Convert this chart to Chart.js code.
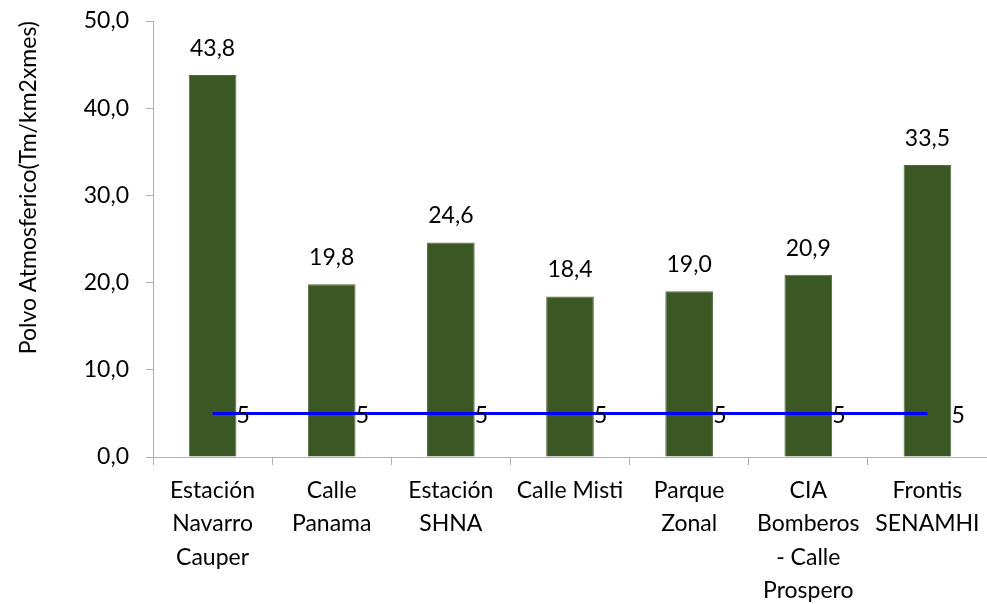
<!DOCTYPE html>
<html>
<head>
<meta charset="utf-8">
<script src="https://cdn.jsdelivr.net/npm/chart.js@4.4.0/dist/chart.umd.min.js"></script>
<style>
  html, body { margin: 0; padding: 0; background: #fff; }
  #wrap { width: 987px; height: 604px; }
</style>
</head>
<body>
<div id="wrap"><canvas id="chart" width="987" height="604"></canvas></div>
<script>
// === Data ===
const stations = [
    ['Estación', 'Navarro', 'Cauper'],
    ['Calle', 'Panama'],
    ['Estación', 'SHNA'],
    'Calle Misti',
    ['Parque', 'Zonal'],
    ['CIA', 'Bomberos', '- Calle', 'Prospero'],
    ['Frontis', 'SENAMHI']
];
const dustValues = [43.8, 19.8, 24.6, 18.4, 19.0, 20.9, 33.5];
const limitValues = [5, 5, 5, 5, 5, 5, 5];
const yTicks = [0, 10, 20, 30, 40, 50];

const FONT = 'Lato, "Open Sans", sans-serif';
const fmt = v => v.toFixed(1).replace('.', ',');

// Draw values above bars and beside the line points
const valueLabels = {
    id: 'valueLabels',
    afterDatasetsDraw(chart) {
        const ctx = chart.ctx;
        ctx.save();
        ctx.fillStyle = '#000';
        ctx.font = '23px ' + FONT;

        const bars = chart.getDatasetMeta(0).data;
        ctx.textAlign = 'center';
        ctx.textBaseline = 'bottom';
        bars.forEach((bar, i) => {
            ctx.fillText(fmt(dustValues[i]), bar.x, bar.y - 15);
        });

        const pts = chart.getDatasetMeta(1).data;
        ctx.textAlign = 'left';
        ctx.textBaseline = 'middle';
        pts.forEach((p, i) => {
            ctx.fillText(String(limitValues[i]), p.x + 24, p.y + 2);
        });
        ctx.restore();
    }
};

new Chart(document.getElementById('chart').getContext('2d'), {
    data: {
        labels: stations,
        datasets: [
            {
                type: 'bar',
                data: dustValues,
                backgroundColor: '#3a5724',
                borderColor: '#53693f',
                borderWidth: 1,
                categoryPercentage: 1,
                barPercentage: 0.4,
                order: 2
            },
            {
                type: 'line',
                data: limitValues,
                borderColor: '#0000ff',
                borderWidth: 3,
                pointRadius: 0,
                tension: 0,
                order: 1
            }
        ]
    },
    options: {
        responsive: false,
        animation: false,
        layout: { padding: { top: 21, right: 0, left: 0, bottom: 0 } },
        plugins: {
            legend: { display: false },
            tooltip: { enabled: false }
        },
        scales: {
            x: {
                offset: true,
                grid: {
                    offset: true,
                    drawOnChartArea: false,
                    color: '#b0b0b0',
                    tickLength: 8,
                    tickColor: '#b0b0b0'
                },
                border: { color: '#b0b0b0', width: 1 },
                ticks: {
                    color: '#000',
                    font: { family: FONT, size: 23, lineHeight: 1.45 },
                    padding: 9,
                    maxRotation: 0,
                    autoSkip: false
                },
                afterFit: scale => {
                    scale.height = 147;
                    scale.paddingLeft = 0;
                    scale.paddingRight = 0;
                }
            },
            y: {
                min: 0,
                max: 50,
                afterBuildTicks: scale => {
                    scale.ticks = yTicks.map(v => ({ value: v }));
                },
                grid: {
                    drawOnChartArea: false,
                    tickLength: 7,
                    tickColor: '#b0b0b0'
                },
                border: { color: '#b0b0b0', width: 1 },
                ticks: {
                    color: '#000',
                    font: { family: FONT, size: 23 },
                    padding: 17,
                    callback: v => fmt(v)
                },
                title: {
                    display: true,
                    text: 'Polvo Atmosferico(Tm/km2xmes)',
                    color: '#000',
                    align: 'end',
                    font: { family: FONT, size: 23 },
                    padding: { top: 15, bottom: 0 }
                },
                afterFit: scale => {
                    scale.width = 153;
                    scale.paddingTop = 0;
                    scale.paddingBottom = 0;
                }
            }
        }
    },
    plugins: [valueLabels]
});
</script>
</body>
</html>
